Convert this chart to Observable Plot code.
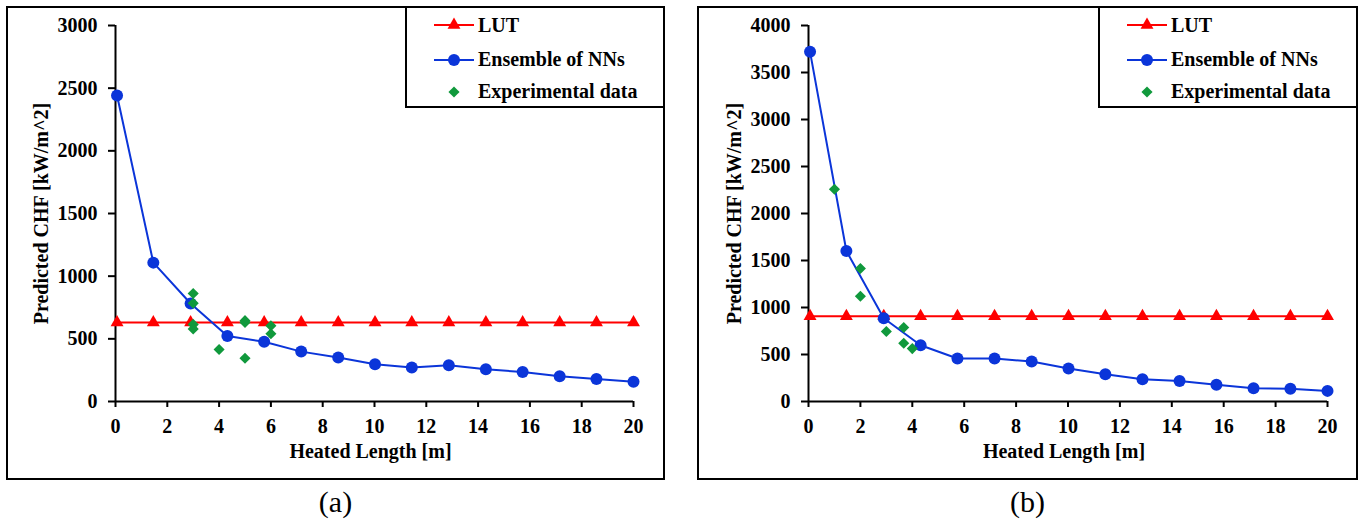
<!DOCTYPE html>
<html>
<head>
<meta charset="utf-8">
<script src="https://cdn.jsdelivr.net/npm/d3@7"></script>
<script src="https://cdn.jsdelivr.net/npm/@observablehq/plot@0.6"></script>
<style>
  html, body { margin: 0; padding: 0; background: #fff; }
  body { width: 1365px; height: 523px; position: relative; overflow: hidden;
         font-family: "Liberation Serif", "Times New Roman", serif; }
  .panel { position: absolute; top: 6px; height: 474px; border: 2px solid #000; box-sizing: border-box; }
  .panel svg { display: block; }
  .legend { position: absolute; top: 6px; width: 260px; height: 102px; border: 2px solid #000;
            box-sizing: border-box; background: #fff; }
  .legend svg { display: block; }
  .caption { position: absolute; top: 487px; font-size: 30px; line-height: 30px; text-align: center; color: #000; }
</style>
</head>
<body>
<div id="pa" class="panel" style="left:6px;width:659px;"></div>
<div id="pb" class="panel" style="left:697px;width:661px;"></div>
<div id="la" class="legend" style="left:405px;"></div>
<div id="lb" class="legend" style="left:1098px;"></div>
<div class="caption" style="left:6px;width:659px;">(a)</div>
<div class="caption" style="left:697px;width:661px;">(b)</div>
<script>
// ---------- data ----------
const seriesNames = ["LUT", "Ensemble of NNs", "Experimental data"];
const xTitle = "Heated Length [m]";
const yTitle = "Predicted CHF [kW/m^2]";
const xTicks = [0, 2, 4, 6, 8, 10, 12, 14, 16, 18, 20];
const yTicksA = [0, 500, 1000, 1500, 2000, 2500, 3000];
const yTicksB = [0, 500, 1000, 1500, 2000, 2500, 3000, 3500, 4000];

// heated-length positions of the LUT / NN predictions
const predX = [0.06, 1.46, 2.9, 4.32, 5.74, 7.17, 8.6, 10.02, 11.44, 12.87, 14.3, 15.72, 17.15, 18.57, 20];

// panel (a)
const lutA = [630, 630, 630, 630, 630, 630, 630, 630, 630, 630, 630, 630, 630, 630, 630];
const nnA = [2442, 1108, 782, 522, 477, 398, 351, 297, 271, 290, 257, 235, 201, 179, 157];
const expXA = [3, 3, 3, 3, 4, 5, 5, 5, 6, 6];
const expYA = [862, 784, 615, 578, 415, 645, 630, 345, 604, 541];

// panel (b)
const lutB = [906, 906, 906, 906, 906, 906, 906, 906, 906, 906, 906, 906, 906, 906, 906];
const nnB = [3720, 1601, 886, 598, 457, 457, 425, 351, 290, 237, 219, 177, 142, 135, 113];
const expXB = [1, 2, 2, 3, 3.67, 3.67, 4];
const expYB = [2258, 1415, 1120, 744, 787, 619, 563];

// ---------- styles ----------
const RED = "#ff0000";
const BLUE = "#0b35d9";
const GREEN = "#10993c";
const FONT = '"Liberation Serif", "Times New Roman", serif';

function rows(xs, ys) { return xs.map((x, i) => ({x, y: ys[i]})); }

function chart({width, ml, mr, ymax, yTicks, lut, nn, expX, expY}) {
  const lutData = rows(predX, lut);
  const nnData = rows(predX, nn);
  const expData = rows(expX, expY);
  return Plot.plot({
    width, height: 470,
    marginLeft: ml, marginRight: mr, marginTop: 17, marginBottom: 77,
    x: {domain: [0, 20]},
    y: {domain: [0, ymax]},
    style: {fontFamily: FONT, fontSize: "20px", fontWeight: "bold", color: "#000",
            background: "transparent", overflow: "visible"},
    marks: [
      Plot.axisX({ticks: xTicks, tickSize: 6, tickPadding: 11, strokeWidth: 2, label: null, tickFormat: "d"}),
      Plot.axisY({ticks: yTicks, tickSize: 7, tickPadding: 11, strokeWidth: 2, label: null, tickFormat: "d"}),
      Plot.ruleX([0], {stroke: "#000", strokeWidth: 2}),
      Plot.ruleY([0], {stroke: "#000", strokeWidth: 2}),
      Plot.line(lutData, {x: "x", y: "y", stroke: RED, strokeWidth: 2}),
      Plot.dot(lutData, {x: "x", y: "y", symbol: "triangle", r: 4.8, fill: RED, stroke: "none"}),
      Plot.line(nnData, {x: "x", y: "y", stroke: BLUE, strokeWidth: 2}),
      Plot.dot(nnData, {x: "x", y: "y", symbol: "circle", r: 6, fill: BLUE, stroke: "none"}),
      Plot.dot(expData, {x: "x", y: "y", symbol: "diamond2", r: 5, fill: GREEN, stroke: "none"}),
      Plot.text([xTitle], {text: d => d, frameAnchor: "bottom", lineAnchor: "middle", textAnchor: "middle",
                           dy: 50, dx: -4, fontSize: 20, fontWeight: "bold"}),
      Plot.text([yTitle], {text: d => d, frameAnchor: "left", lineAnchor: "middle", textAnchor: "middle",
                           rotate: -90, dx: -74, fontSize: 20, fontWeight: "bold"})
    ]
  });
}

document.getElementById("pa").append(chart({
  width: 655, ml: 107, mr: 30, ymax: 3000, yTicks: yTicksA,
  lut: lutA, nn: nnA, expX: expXA, expY: expYA
}));
document.getElementById("pb").append(chart({
  width: 657, ml: 109, mr: 29, ymax: 4000, yTicks: yTicksB,
  lut: lutB, nn: nnB, expX: expXB, expY: expYB
}));

// ---------- legends ----------
function legend(id) {
  const svg = d3.select("#" + id).append("svg").attr("width", 256).attr("height", 98);
  const items = [
    {name: seriesNames[0], color: RED, line: true, sym: d3.symbolTriangle, r: 4.8, ly: 17, by: 24},
    {name: seriesNames[1], color: BLUE, line: true, sym: d3.symbolCircle, r: 6, ly: 52, by: 58},
    {name: seriesNames[2], color: GREEN, line: false, sym: d3.symbolDiamond2, r: 5, ly: 84, by: 90}
  ];
  for (const it of items) {
    if (it.line) svg.append("line").attr("x1", 27).attr("x2", 67).attr("y1", it.ly).attr("y2", it.ly)
      .attr("stroke", it.color).attr("stroke-width", 2);
    svg.append("path").attr("d", d3.symbol(it.sym, Math.PI * it.r * it.r)())
      .attr("transform", `translate(47,${it.ly})`).attr("fill", it.color);
    svg.append("text").attr("x", 71).attr("y", it.by).text(it.name)
      .attr("font-family", FONT).attr("font-size", 20).attr("font-weight", "bold").attr("fill", "#000");
  }
}
legend("la");
legend("lb");
</script>
</body>
</html>
